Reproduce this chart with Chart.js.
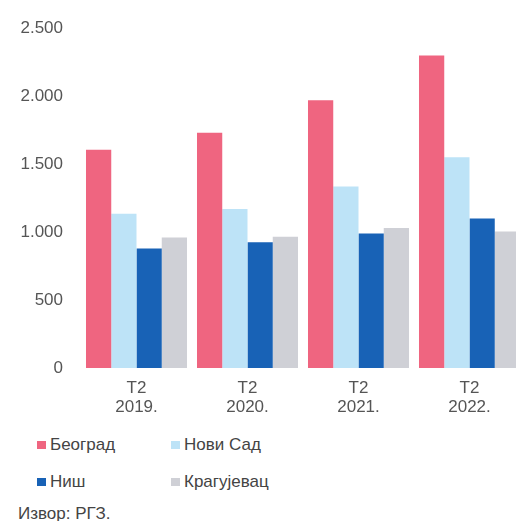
<!DOCTYPE html>
<html>
<head>
<meta charset="utf-8">
<script src="https://cdn.jsdelivr.net/npm/chart.js@4/dist/chart.umd.min.js"></script>
<style>
  html, body { margin: 0; padding: 0; background: #fff; overflow: hidden; }
  body { width: 516px; height: 521px; position: relative; font-family: "Liberation Sans", Arial, sans-serif; }
  #wrap { position: absolute; left: 0; top: 0; width: 530px; height: 420px; }
  #legend { position: absolute; left: 37px; top: 434px; display: grid; grid-template-columns: 134px auto; row-gap: 15px; font-size: 17px; color: #444; }
  #legend .item { display: flex; align-items: center; height: 22px; }
  #legend .box { width: 9px; height: 8px; margin-right: 4px; }
  #source { position: absolute; left: 18px; top: 504px; font-size: 17px; color: #444; }
</style>
</head>
<body>
<div id="wrap"><canvas id="chart"></canvas></div>
<div id="legend"></div>
<div id="source">Извор: РГЗ.</div>
<script>
const quarters = [['Т2', '2019.'], ['Т2', '2020.'], ['Т2', '2021.'], ['Т2', '2022.']];
const cities = ['Београд', 'Нови Сад', 'Ниш', 'Крагујевац'];
const beograd = [1605, 1730, 1970, 2300];
const noviSad = [1135, 1170, 1335, 1550];
const nis = [880, 925, 990, 1100];
const kragujevac = [960, 965, 1030, 1005];
const yTicks = [0, 500, 1000, 1500, 2000, 2500];
const colors = ['#ef6580', '#bde3f7', '#1862b6', '#cfd0d6'];

const series = [beograd, noviSad, nis, kragujevac];
const datasets = series.map((values, i) => ({
  label: cities[i],
  data: values,
  backgroundColor: colors[i],
  borderWidth: 0,
  categoryPercentage: 0.91,
  barPercentage: 1.0
}));

// thousands with a dot, e.g. 2.500
const fmt = v => v >= 1000 ? Math.floor(v / 1000) + '.' + String(v % 1000).padStart(3, '0') : String(v);

new Chart(document.getElementById('chart').getContext('2d'), {
  type: 'bar',
  data: { labels: quarters, datasets },
  options: {
    responsive: true,
    maintainAspectRatio: false,
    animation: false,
    layout: { padding: { top: 23, right: 5, left: 0, bottom: 0 } },
    plugins: { legend: { display: false }, tooltip: { enabled: false } },
    scales: {
      x: {
        grid: { display: false, drawTicks: false },
        border: { display: false },
        ticks: { color: '#555', font: { family: 'Liberation Sans', size: 17, lineHeight: 1.1 }, padding: 11 },
        afterFit: s => { s.height = 52; }
      },
      y: {
        min: 0,
        max: 2500,
        afterBuildTicks: s => { s.ticks = yTicks.map(v => ({ value: v })); },
        grid: { display: false, drawTicks: false },
        border: { display: false },
        ticks: { color: '#555', font: { family: 'Liberation Sans', size: 17 }, padding: 18, callback: v => fmt(v) },
        afterFit: s => { s.width = 81; }
      }
    }
  }
});

const legend = document.getElementById('legend');
cities.forEach((name, i) => {
  const item = document.createElement('div');
  item.className = 'item';
  item.innerHTML = `<span class="box" style="background:${colors[i]}"></span><span>${name}</span>`;
  legend.appendChild(item);
});
</script>
</body>
</html>
